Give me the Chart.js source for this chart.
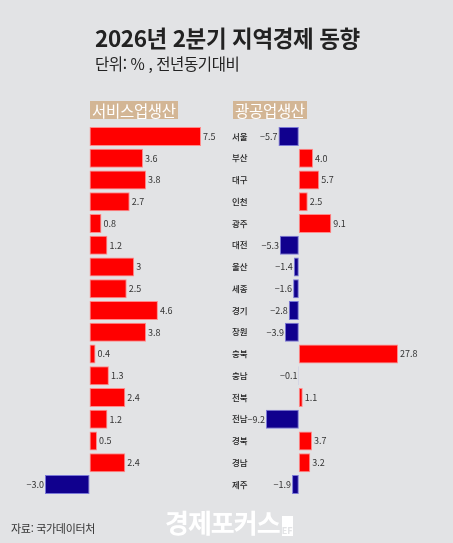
<!DOCTYPE html>
<html lang="ko">
<head>
<meta charset="utf-8">
<script src="https://cdn.jsdelivr.net/npm/chart.js@4.4.1/dist/chart.umd.min.js"></script>
<style>
  html, body { margin: 0; padding: 0; background: #e2e3e5; }
  #wrap { position: relative; width: 453px; height: 543px; overflow: hidden; background: #e2e3e5;
          font-family: "Noto Sans CJK KR", "Noto Sans", sans-serif; }
  #wrap canvas { position: absolute; left: 0; top: 0; }
  .t { position: absolute; white-space: nowrap; }
  #title { left: 95px; top: 21px; font-size: 22.5px; font-weight: 700; color: #222; letter-spacing: -0.4px; }
  #sub { left: 95px; top: 52px; font-size: 15.5px; color: #222; letter-spacing: -0.4px; }
  .head { background: #d3b695; color: #fff; font-size: 15.5px; line-height: 18px; height: 18px; padding: 0 2px; top: 101px; letter-spacing: -0.3px; }
  #h1 { left: 90px; }
  #h2 { left: 233px; }
  #src { left: 11px; top: 520px; font-size: 11px; color: #333; letter-spacing: -0.3px; }
  #mark { left: 165px; top: 503px; font-size: 26px; font-weight: 700; color: #fff; letter-spacing: -1px; }
  #mark span { display: inline-block; width: 11px; height: 20px; margin-left: 2px; background: #fff; color: #e2e3e5;
               font-size: 9px; line-height: 30px; text-align: center; vertical-align: -1px; letter-spacing: 0; }
</style>
</head>
<body>
<div id="wrap">
  <canvas id="cSvc" width="453" height="543"></canvas>
  <canvas id="cInd" width="453" height="543"></canvas>
  <div class="t" id="title">2026년 2분기 지역경제 동향</div>
  <div class="t" id="sub">단위: % , 전년동기대비</div>
  <div class="t head" id="h1">서비스업생산</div>
  <div class="t head" id="h2">광공업생산</div>
  <div class="t" id="src">자료: 국가데이터처</div>
  <div class="t" id="mark">경제포커스<span>EF</span></div>
</div>
<script>
  var REGIONS = ["서울", "부산", "대구", "인천", "광주", "대전", "울산", "세종", "경기",
                 "창원", "충북", "충남", "전북", "전남", "경북", "경남", "제주"];
  var SERVICE = [7.5, 3.6, 3.8, 2.7, 0.8, 1.2, 3, 2.5, 4.6, 3.8, 0.4, 1.3, 2.4, 1.2, 0.5, 2.4, -3.0];
  var SERVICE_TXT = ["7.5", "3.6", "3.8", "2.7", "0.8", "1.2", "3", "2.5", "4.6", "3.8", "0.4", "1.3",
                     "2.4", "1.2", "0.5", "2.4", "−3.0"];
  var MINING = [-5.7, 4.0, 5.7, 2.5, 9.1, -5.3, -1.4, -1.6, -2.8, -3.9, 27.8, -0.1, 1.1, -9.2, 3.7, 3.2, -1.9];
  var MINING_TXT = ["−5.7", "4.0", "5.7", "2.5", "9.1", "−5.3", "−1.4", "−1.6", "−2.8", "−3.9", "27.8",
                    "−0.1", "1.1", "−9.2", "3.7", "3.2", "−1.9"];

  var RED = "#ff0000", RED_EDGE = "#ff8a8a", BLUE = "#10008e", BLUE_EDGE = "#7a78d6";

  // value labels beside each bar end, optional region names at a fixed x
  var valueLabels = {
    id: "valueLabels",
    afterDatasetsDraw: function (chart, args, opts) {
      var ctx = chart.ctx, meta = chart.getDatasetMeta(0);
      ctx.save();
      ctx.textBaseline = "middle";
      meta.data.forEach(function (bar, i) {
        var v = chart.data.datasets[0].data[i];
        ctx.font = "9px 'Noto Sans CJK KR', sans-serif";
        ctx.fillStyle = "#333";
        if (v >= 0) { ctx.textAlign = "left"; ctx.fillText(opts.text[i], bar.x + 2, bar.y); }
        else { ctx.textAlign = "right"; ctx.fillText(opts.text[i], bar.x - 1, bar.y); }
        if (opts.names) {
          ctx.font = "500 8.5px 'Noto Sans CJK KR', sans-serif";
          ctx.fillStyle = "#222";
          ctx.textAlign = "left";
          ctx.fillText(opts.names[i], opts.nameX, bar.y);
        }
      });
      ctx.restore();
    }
  };

  function barChart(id, values, text, min, max, pad, names) {
    return new Chart(document.getElementById(id), {
      type: "bar",
      data: {
        labels: REGIONS,
        datasets: [{
          data: values,
          backgroundColor: values.map(function (v) { return v >= 0 ? RED : BLUE; }),
          borderColor: values.map(function (v) { return v >= 0 ? RED_EDGE : BLUE_EDGE; }),
          borderWidth: 1,
          borderSkipped: false,
          categoryPercentage: 1,
          barPercentage: 0.88
        }]
      },
      options: {
        indexAxis: "y", responsive: false, animation: false,
        layout: { padding: pad },
        plugins: {
          legend: { display: false }, tooltip: { enabled: false },
          valueLabels: { text: text, names: names, nameX: 232 }
        },
        scales: {
          x: { display: false, min: min, max: max },
          y: { display: false }
        }
      },
      plugins: [valueLabels]
    });
  }

  barChart("cSvc", SERVICE, SERVICE_TXT, -3, 7.5, { left: 45, right: 252, top: 125.6, bottom: 47.6 }, null);
  barChart("cInd", MINING, MINING_TXT, -9.2, 27.8, { left: 266, right: 55, top: 125.6, bottom: 47.6 }, REGIONS);
</script>
</body>
</html>
